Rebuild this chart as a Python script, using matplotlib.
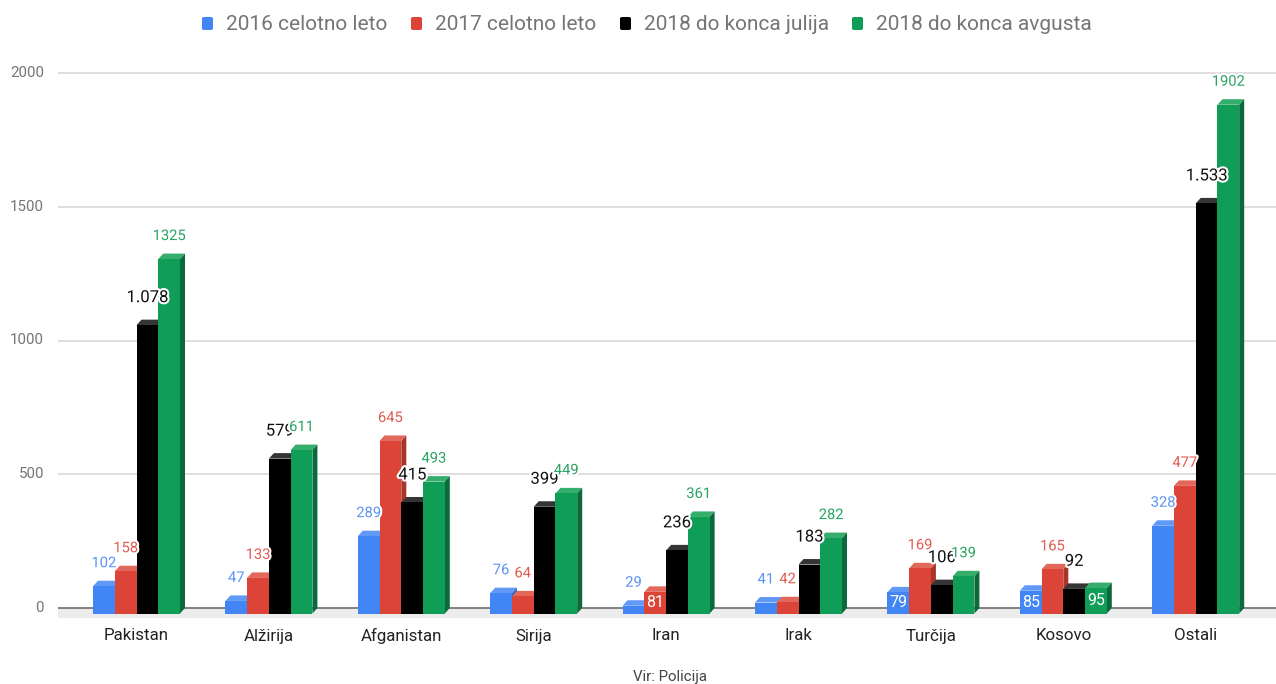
import matplotlib
matplotlib.use("Agg")
import matplotlib.pyplot as plt
from matplotlib.patches import Polygon, FancyBboxPatch
import matplotlib.patheffects as pe
import numpy as np

plt.rcParams['font.family'] = ['Roboto', 'DejaVu Sans']

categories = ['Pakistan', 'Alžirija', 'Afganistan', 'Sirija', 'Iran', 'Irak', 'Turčija', 'Kosovo', 'Ostali']
s2016 = [102, 47, 289, 76, 29, 41, 79, 85, 328]
s2017 = [158, 133, 645, 64, 81, 42, 169, 165, 477]
s2018_jul = [1078, 579, 415, 399, 236, 183, 106, 92, 1533]
s2018_avg = [1325, 611, 493, 449, 361, 282, 139, 95, 1902]
series_names = ['2016 celotno leto', '2017 celotno leto', '2018 do konca julija', '2018 do konca avgusta']
series = [s2016, s2017, s2018_jul, s2018_avg]
yticks = [0, 500, 1000, 1500, 2000]

front_c = ['#4285F4', '#DB4437', '#000000', '#0F9D58']
top_c = ['#6199F6', '#E2685C', '#353535', '#35AD6B']
side_c = ['#2D68C8', '#A8342A', '#111111', '#0A6A3B']
lab_c = ['#5B93F3', '#E35B50', '#111111', '#2AA463']

# labels drawn inside the bar (white)
inside = {(0, 6), (0, 7), (3, 7), (1, 4)}

W, H = 1276, 684
fig = plt.figure(figsize=(W / 100, H / 100), dpi=100)

ax_l, ax_r = 58, 1276
ax_b, ax_t = 620, 60
ppu = (608 - 73) / 2000.0  # pixels per unit
ymin = -(ax_b - 608) / ppu
ymax = 2000 + (73 - ax_t) / ppu
ax = fig.add_axes([ax_l / W, 1 - ax_b / H, (ax_r - ax_l) / W, (ax_b - ax_t) / H])
ax.set_ylim(ymin, ymax)
unit = 132.4
x0 = -(136.5 - ax_l) / unit
ax.set_xlim(x0, x0 + (ax_r - ax_l) / unit)
for s in ax.spines.values():
    s.set_visible(False)
ax.set_xticks([])
ax.set_yticks([])

# grid
for t in yticks[1:]:
    ax.axhline(t, color='#d9d9d9', lw=1.2, zorder=0)
# floor
dxu = 5 / unit
dyu = 5.5 / ppu
xl, xr = ax.get_xlim()
floor = Polygon([(xl - 8 / unit + 0.06, -10 / ppu), (xr, -10 / ppu), (xr, 0), (xl, 0)],
                closed=True, color='#ececec', lw=0, zorder=0.5)
ax.add_patch(floor)
ax.axhline(0, color='#777777', lw=1.3, zorder=0.6)

for t in yticks:
    fig.text(44 / W, 1 - (608 - t * ppu) / H, str(t), ha='right', va='center',
             fontsize=10.8, color='#757575')

bw = 21.75 / unit
x = np.arange(len(categories))
offs = [-2, -1, 0, 1]
z = 2
for si, vals in enumerate(series):
    lefts = x + offs[si] * bw
    ax.bar(lefts, vals, width=bw, bottom=-dyu, align='edge', color=front_c[si],
           lw=0, zorder=z + 0.2 + si * 0.01)
    for ci, v in enumerate(vals):
        L = lefts[ci]
        R = L + bw
        top = Polygon([(L, v - dyu), (R, v - dyu), (R + dxu, v), (L + dxu, v)],
                      closed=True, color=top_c[si], lw=0, zorder=z + si * 0.01)
        side = Polygon([(R, -dyu), (R + dxu, 0), (R + dxu, v), (R, v - dyu)],
                       closed=True, color=side_c[si], lw=0, zorder=z + si * 0.01)
        ax.add_patch(top)
        ax.add_patch(side)

for si, vals in enumerate(series):
    lefts = x + offs[si] * bw
    for ci, v in enumerate(vals):
        cx = lefts[ci] + bw / 2
        if si == 2:
            txt = f"{v:,}".replace(',', '.')
            fs = 12.0
            cy = v + 22 / ppu
        else:
            txt = str(v)
            fs = 10.6
            cy = v + 17.5 / ppu
        col = lab_c[si]
        if (si, ci) in inside:
            cy = v / 2 - dyu
            col = 'white'
            ax.text(cx, cy, txt, ha='center', va='center', fontsize=11.5, color=col,
                    zorder=10 + si)
        else:
            ax.text(cx, cy, txt, ha='center', va='center', fontsize=fs, color=col,
                    zorder=10 + si,
                    path_effects=[pe.withStroke(linewidth=3, foreground='white')])

for ci, c in enumerate(categories):
    ax.text(x[ci], ymin - 16 / ppu, c, ha='center', va='center', fontsize=12.2,
            color='#222222', clip_on=False)

# legend
leg_text_x = [226, 435, 644, 876]
for si, name in enumerate(series_names):
    tx = leg_text_x[si]
    sq = FancyBboxPatch(((tx - 24) / W, 1 - 30 / H), 11 / W, 13 / H,
                        boxstyle='round,pad=0,rounding_size=0.002',
                        transform=fig.transFigure, color=front_c[si], lw=0)
    fig.patches.append(sq)
    fig.text(tx / W, 1 - 24 / H, name, ha='left', va='center', fontsize=15,
             color='#757575')

fig.text(670 / W, 1 - 677 / H, 'Vir: Policija', ha='center', va='center',
         fontsize=10.8, color='#444444')

fig.savefig('out.png', dpi=100)
